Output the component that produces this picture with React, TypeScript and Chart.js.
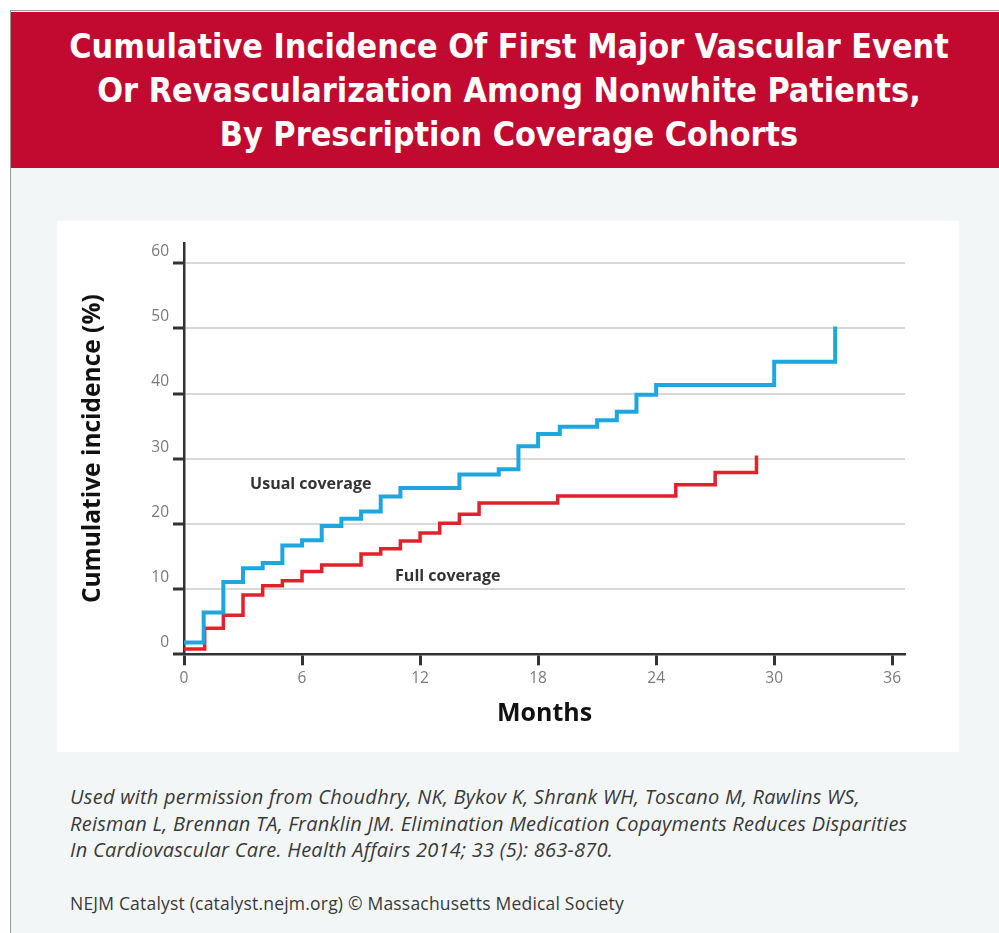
import React, { useEffect, useRef } from 'react';
import { Chart, registerables } from 'chart.js';

Chart.register(...registerables);

// ---- Data ----
const usualMonths = [0, 1, 2, 3, 4, 5, 6, 7, 8, 9, 10, 11, 14, 16, 17, 18, 19.1, 21, 22, 23, 24, 30, 33.1];
const usualValues = [1.8, 6.4, 11.1, 13.2, 14.0, 16.7, 17.5, 19.7, 20.8, 21.9, 24.2, 25.5, 27.6, 28.4, 31.9, 33.8, 34.9, 35.9, 37.2, 39.8, 41.3, 44.9, 50.3];

const fullMonths = [0, 1.05, 2, 3, 4, 5, 6, 7, 9, 10, 11, 12, 13, 14, 15, 19, 25, 27, 29.1];
const fullValues = [0.8, 4.0, 6.0, 9.1, 10.5, 11.3, 12.7, 13.7, 15.4, 16.2, 17.4, 18.6, 20.1, 21.5, 23.2, 24.3, 26.0, 27.9, 30.5];

const xTickValues = [0, 6, 12, 18, 24, 30, 36];
const yTickValues = [0, 10, 20, 30, 40, 50, 60];

const seriesNames = ['Usual coverage', 'Full coverage'];
const seriesLabelMonths = [3.36, 10.73];
const seriesLabelValues = [26.1, 12.0];

const titleLines = [
  'Cumulative Incidence Of First Major Vascular Event',
  'Or Revascularization Among Nonwhite Patients,',
  'By Prescription Coverage Cohorts',
];
const citationLines = [
  'Used with permission from Choudhry, NK, Bykov K, Shrank WH, Toscano M, Rawlins WS,',
  'Reisman L, Brennan TA, Franklin JM. Elimination Medication Copayments Reduces Disparities',
  'In Cardiovascular Care. Health Affairs 2014; 33 (5): 863-870.',
];
const creditLine = 'NEJM Catalyst (catalyst.nejm.org) \u00A9 Massachusetts Medical Society';

const BLUE = '#1da7de';
const RED = '#e1222a';
const AXIS = '#333333';
const FONT = "'Open Sans', 'Noto Sans', sans-serif";

const seriesLabelPlugin = {
  id: 'seriesLabels',
  afterDatasetsDraw(chart: any) {
    const { ctx, scales } = chart;
    const xs = scales.x;
    const ys = scales.y;
    ctx.save();
    ctx.font = `bold 16px ${FONT}`;
    ctx.fillStyle = '#333';
    ctx.textAlign = 'left';
    ctx.textBaseline = 'middle';
    seriesNames.forEach((name, i) => {
      ctx.fillText(name, xs.getPixelForValue(seriesLabelMonths[i]), ys.getPixelForValue(seriesLabelValues[i]));
    });
    ctx.restore();
  },
};

function KMChart() {
  const ref = useRef<HTMLCanvasElement | null>(null);
  useEffect(() => {
    if (!ref.current) return;
    const chart = new Chart(ref.current, {
      type: 'line',
      data: {
        datasets: [
          {
            label: seriesNames[0],
            data: usualMonths.map((m, i) => ({ x: m, y: usualValues[i] })),
            borderColor: BLUE,
            borderWidth: 4,
            stepped: 'before',
            pointRadius: 0,
            fill: false,
          },
          {
            label: seriesNames[1],
            data: fullMonths.map((m, i) => ({ x: m, y: fullValues[i] })),
            borderColor: RED,
            borderWidth: 3.5,
            stepped: 'before',
            pointRadius: 0,
            fill: false,
          },
        ],
      },
      options: {
        animation: false,
        responsive: false,
        maintainAspectRatio: false,
        layout: { padding: { left: 0, right: 54, top: 22, bottom: 0 } },
        plugins: { legend: { display: false }, tooltip: { enabled: false } },
        scales: {
          x: {
            type: 'linear',
            min: 0,
            max: 36.65,
            afterBuildTicks: (s: any) => {
              s.ticks = xTickValues.map((v) => ({ value: v }));
            },
            afterFit: (s: any) => {
              s.height = 97.7;
            },
            grid: { drawOnChartArea: false, drawTicks: true, tickLength: 11, tickColor: AXIS, tickWidth: 3 },
            border: { display: true, color: AXIS, width: 2.5 },
            ticks: { padding: 4, color: '#7a7a7a', font: { family: FONT, size: 15.5 }, maxRotation: 0, autoSkip: false },
            title: {
              display: true,
              text: 'Months',
              color: '#111',
              font: { family: FONT, size: 25, weight: 'bold' },
              padding: { top: 0, bottom: 23 },
            },
          },
          y: {
            type: 'linear',
            min: 0,
            max: 63.1,
            afterBuildTicks: (s: any) => {
              s.ticks = yTickValues.map((v) => ({ value: v }));
            },
            afterFit: (s: any) => {
              s.width = 127;
            },
            grid: { color: '#d8d8d8', lineWidth: 2, drawTicks: true, tickLength: 11, tickColor: AXIS, tickWidth: 3 },
            border: { display: true, color: AXIS, width: 2.5 },
            ticks: { padding: 4, labelOffset: -11.5, color: '#7a7a7a', font: { family: FONT, size: 15.5 }, autoSkip: false },
            title: {
              display: true,
              text: 'Cumulative incidence (%)',
              color: '#111',
              font: { family: FONT, size: 24.5, weight: 'bold' },
              padding: { top: 21, bottom: 0 },
            },
          },
        },
      } as any,
      plugins: [seriesLabelPlugin],
    });
    return () => chart.destroy();
  }, []);
  return <canvas ref={ref} width={902} height={531} style={{ display: 'block', width: 902, height: 531 }} />;
}

export default function App() {
  return (
    <div style={{ position: 'absolute', left: 0, top: 0, width: 999, height: 933, background: '#fff', overflow: 'hidden' }}>
      <div
        style={{
          position: 'absolute',
          left: 10,
          top: 10,
          width: 989,
          height: 923,
          borderLeft: '1px solid #9a9a9a',
          borderTop: '1px solid #9a9a9a',
          background: '#f3f6f6',
        }}
      />
      <div
        style={{
          position: 'absolute',
          left: 11,
          top: 12,
          width: 988,
          height: 156,
          background: '#c20a30',
          color: '#fff',
          textAlign: 'center',
          fontFamily: "'Liberation Sans Narrow', 'DejaVu Sans Condensed', 'Roboto', sans-serif",
          fontWeight: 'bold',
          fontSize: 33.8,
          lineHeight: '44px',
          paddingTop: 13,
          paddingLeft: 8,
          boxSizing: 'border-box',
        }}
      >
        {titleLines.map((t) => (
          <div key={t}>{t}</div>
        ))}
      </div>
      <div
        style={{
          position: 'absolute',
          left: 57,
          top: 221,
          width: 902,
          height: 531,
          background: '#fff',
        }}
      >
        <KMChart />
      </div>
      <div
        style={{
          position: 'absolute',
          left: 70,
          top: 784,
          fontFamily: FONT,
          fontStyle: 'italic',
          fontSize: 20,
          letterSpacing: 0.25,
          lineHeight: '26.5px',
          color: '#3a3a3a',
          whiteSpace: 'nowrap',
        }}
      >
        {citationLines.map((t) => (
          <div key={t}>{t}</div>
        ))}
      </div>
      <div
        style={{
          position: 'absolute',
          left: 70,
          top: 891,
          fontFamily: FONT,
          fontSize: 17.5,
          letterSpacing: 0.2,
          lineHeight: '24px',
          color: '#3a3a3a',
          whiteSpace: 'nowrap',
        }}
      >
        {creditLine}
      </div>
    </div>
  );
}
